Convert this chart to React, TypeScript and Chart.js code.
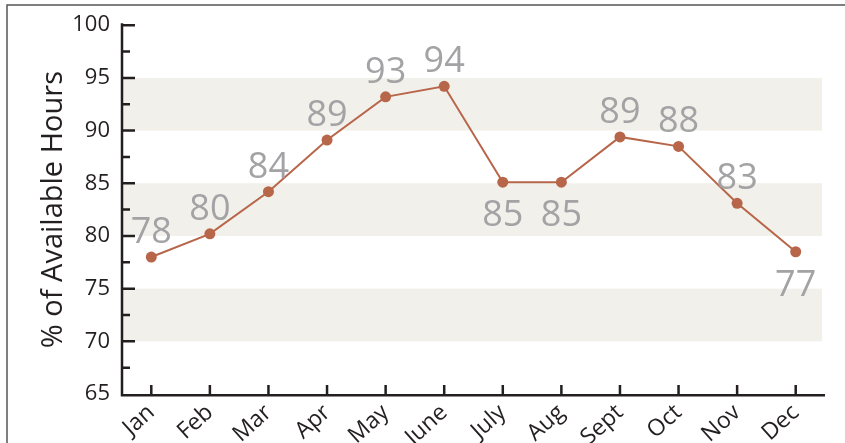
import React, { useEffect, useRef } from "react";
import { Chart, registerables } from "chart.js";

Chart.register(...registerables);

const MONTHS = ["Jan", "Feb", "Mar", "Apr", "May", "June", "July", "Aug", "Sept", "Oct", "Nov", "Dec"];
const VALUES = [78.0, 80.2, 84.2, 89.1, 93.2, 94.2, 85.1, 85.1, 89.4, 88.5, 83.1, 78.5];
const VALUE_LABELS = ["78", "80", "84", "89", "93", "94", "85", "85", "89", "88", "83", "77"];
const LABEL_BELOW = [false, false, false, false, false, false, true, true, false, false, false, true];
const BANDS: [number, number][] = [[70, 75], [80, 85], [90, 95]];
const Y_MIN = 65;
const Y_MAX = 100;
const Y_STEP = 5;
const Y_TITLE = "% of Available Hours";

const LINE_COLOR = "#b8664a";
const BAND_COLOR = "#f1f0ea";
const AXIS_COLOR = "#231f20";
const LABEL_COLOR = "#a3a3a5";
const FONT = "'Open Sans', sans-serif";

const decoPlugin = {
  id: "deco",
  beforeDraw(chart: any) {
    const { ctx, chartArea, scales } = chart;
    const y = scales.y;
    ctx.save();
    // frame
    ctx.strokeStyle = "#555555";
    ctx.lineWidth = 1.5;
    ctx.beginPath();
    ctx.moveTo(7, chart.height);
    ctx.lineTo(7, 5);
    ctx.lineTo(chart.width, 5);
    ctx.stroke();
    // bands
    ctx.fillStyle = BAND_COLOR;
    for (const [a, b] of BANDS) {
      const t = y.getPixelForValue(b);
      const bt = y.getPixelForValue(a);
      ctx.fillRect(chartArea.left, t, chartArea.right - 3 - chartArea.left, bt - t);
    }
    ctx.restore();
  },
  beforeDatasetsDraw(chart: any) {
    const { ctx, chartArea, scales } = chart;
    const y = scales.y;
    const x = scales.x;
    ctx.save();
    ctx.strokeStyle = AXIS_COLOR;
    ctx.lineWidth = 2.5;
    ctx.lineCap = "butt";
    const left = chartArea.left;
    const bottom = chartArea.bottom;
    ctx.beginPath();
    ctx.moveTo(left, y.getPixelForValue(Y_MAX) - 2);
    ctx.lineTo(left, bottom + 1.25);
    ctx.lineTo(chartArea.right, bottom + 1.25);
    ctx.stroke();
    // y ticks
    const ticks = y.ticks.map((t: any) => t.value);
    ctx.beginPath();
    for (let i = 0; i < ticks.length; i++) {
      const py = y.getPixelForValue(ticks[i]);
      if (ticks[i] !== Y_MIN) {
        ctx.moveTo(left, py);
        ctx.lineTo(left + 13, py);
      }
      if (i < ticks.length - 1) {
        const mid = (ticks[i] + ticks[i + 1]) / 2;
        const pm = y.getPixelForValue(mid);
        ctx.moveTo(left, pm);
        ctx.lineTo(left + 8, pm);
      }
    }
    // x ticks
    for (let i = 0; i < MONTHS.length; i++) {
      const px = x.getPixelForValue(i);
      ctx.moveTo(px, bottom);
      ctx.lineTo(px, bottom - 9);
    }
    ctx.stroke();
    ctx.restore();
  },
  afterDatasetsDraw(chart: any) {
    const { ctx } = chart;
    const meta = chart.getDatasetMeta(0);
    ctx.save();
    ctx.fillStyle = LABEL_COLOR;
    ctx.font = `36px ${FONT}`;
    ctx.textAlign = "center";
    ctx.textBaseline = "alphabetic";
    meta.data.forEach((pt: any, i: number) => {
      const yy = LABEL_BELOW[i] ? pt.y + 44 : pt.y - 14;
      ctx.fillText(VALUE_LABELS[i], pt.x, yy);
    });
    ctx.restore();
  },
};

export default function App() {
  const ref = useRef<HTMLCanvasElement | null>(null);
  useEffect(() => {
    if (!ref.current) return;
    const chart = new Chart(ref.current, {
      type: "line",
      data: {
        labels: MONTHS,
        datasets: [
          {
            data: VALUES,
            borderColor: LINE_COLOR,
            backgroundColor: LINE_COLOR,
            borderWidth: 2,
            pointRadius: 5.5,
            pointBorderWidth: 0,
            pointBackgroundColor: LINE_COLOR,
            tension: 0,
          },
        ],
      },
      options: {
        animation: false,
        responsive: false,
        devicePixelRatio: 1,
        layout: { padding: { left: 0, top: 25, right: 20, bottom: 0 } },
        plugins: { legend: { display: false }, tooltip: { enabled: false } },
        scales: {
          x: {
            type: "category",
            offset: true,
            grid: { display: false, drawTicks: false },
            border: { display: false },
            ticks: {
              color: AXIS_COLOR,
              font: { family: FONT, size: 23 },
              minRotation: 42,
              maxRotation: 42,
              padding: 5,
              autoSkip: false,
            },
            afterFit: (s: any) => {
              s.height = 49;
            },
          },
          y: {
            min: Y_MIN,
            max: Y_MAX,
            grid: { display: false, drawTicks: false },
            border: { display: false },
            ticks: {
              stepSize: Y_STEP,
              color: AXIS_COLOR,
              font: { family: FONT, size: 22 },
              padding: 12,
            },
            title: {
              display: true,
              text: Y_TITLE,
              color: AXIS_COLOR,
              font: { family: FONT, size: 29 },
              padding: { top: 36, bottom: 0 },
            },
            afterFit: (s: any) => {
              s.width = 122;
            },
          },
        },
      },
      plugins: [decoPlugin],
    });
    return () => chart.destroy();
  }, []);
  return (
    <div style={{ position: "absolute", left: 0, top: 0, width: 845, height: 443, background: "#fff" }}>
      <canvas ref={ref} width={845} height={443} style={{ display: "block" }} />
    </div>
  );
}
